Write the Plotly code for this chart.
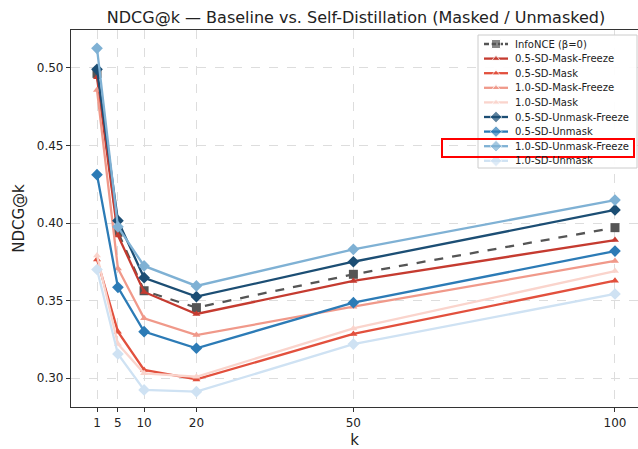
import plotly.graph_objects as go

k_values = [1, 5, 10, 20, 50, 100]

series_names = [
    "InfoNCE (β=0)",
    "0.5-SD-Mask-Freeze",
    "0.5-SD-Mask",
    "1.0-SD-Mask-Freeze",
    "1.0-SD-Mask",
    "0.5-SD-Unmask-Freeze",
    "0.5-SD-Unmask",
    "1.0-SD-Unmask-Freeze",
    "1.0-SD-Unmask",
]

infonce = [0.4965, 0.3940, 0.3563, 0.3454, 0.3669, 0.3970]
sd05_mask_freeze = [0.4940, 0.3920, 0.3555, 0.3413, 0.3626, 0.3890]
sd05_mask = [0.3765, 0.3299, 0.3052, 0.2991, 0.3284, 0.3628]
sd10_mask_freeze = [0.4858, 0.3707, 0.3385, 0.3277, 0.3460, 0.3755]
sd10_mask = [0.3790, 0.3219, 0.3030, 0.3008, 0.3320, 0.3690]
sd05_unmask_freeze = [0.4991, 0.4015, 0.3647, 0.3525, 0.3750, 0.4084]
sd05_unmask = [0.4312, 0.3585, 0.3299, 0.3192, 0.3486, 0.3819]
sd10_unmask_freeze = [0.5127, 0.3975, 0.3723, 0.3594, 0.3830, 0.4148]
sd10_unmask = [0.3700, 0.3155, 0.2923, 0.2912, 0.3219, 0.3542]

all_values = [infonce, sd05_mask_freeze, sd05_mask, sd10_mask_freeze, sd10_mask,
              sd05_unmask_freeze, sd05_unmask, sd10_unmask_freeze, sd10_unmask]

colors = ["#555555", "#c53b30", "#e2503d", "#f0998a", "#fad4cc",
          "#1c4e74", "#2c7bb6", "#7fb1d4", "#cfe2f3"]
symbols = ["square", "triangle-up", "triangle-up", "triangle-up", "triangle-up",
           "diamond", "diamond", "diamond", "diamond"]
dashes = ["dash"] + ["solid"] * 8
msizes = [9, 7, 7, 7, 7, 9, 9, 9, 9]

fig = go.Figure()
for name, vals, c, s, d, ms in zip(series_names, all_values, colors, symbols, dashes, msizes):
    fig.add_trace(go.Scatter(
        x=k_values, y=vals, name=name, mode="lines+markers", showlegend=False,
        line=dict(color=c, width=2.3, dash=d),
        marker=dict(symbol=s, size=ms, color=c),
    ))

# Hand-built legend on an overlay axis measured in pixels of the plot area
L_LEFT, L_RIGHT, L_TOP, L_BOTTOM = 478, 637, 35, 168
fig.add_trace(go.Scatter(
    x=[L_LEFT, L_RIGHT, L_RIGHT, L_LEFT, L_LEFT],
    y=[L_TOP, L_TOP, L_BOTTOM, L_BOTTOM, L_TOP],
    xaxis="x2", yaxis="y2", mode="lines", fill="toself",
    fillcolor="rgba(255,255,255,0.92)", line=dict(color="#cccccc", width=1),
    showlegend=False, hoverinfo="skip"))
annotations = []
for i, (name, c, s, d, ms) in enumerate(zip(series_names, colors, symbols, dashes, msizes)):
    yi = 44 + i * 14.6
    fig.add_trace(go.Scatter(
        x=[484, 496, 508], y=[yi, yi, yi], xaxis="x2", yaxis="y2",
        mode="lines+markers", showlegend=False, hoverinfo="skip",
        line=dict(color=c, width=2.3, dash="solid" if d == "solid" else "5px,2px"),
        marker=dict(symbol=s, size=[0, ms, 0], color=c)))
    annotations.append(dict(x=513, y=yi, xref="x2", yref="y2", text=name,
                            showarrow=False, xanchor="left", yanchor="middle",
                            font=dict(size=10, color="#222222")))

grid = dict(showgrid=True, gridcolor="#dddddd", griddash="dash", gridwidth=1)

fig.update_layout(
    width=638, height=449,
    margin=dict(l=71, r=0, t=30, b=42),
    paper_bgcolor="white", plot_bgcolor="white",
    font=dict(family="DejaVu Sans", size=12, color="#222222"),
    showlegend=False,
    title=dict(text="NDCG@k — Baseline vs. Self-Distillation (Masked / Unmasked)",
               x=356 / 638, xref="container", xanchor="center",
               y=1 - 17 / 449, yref="container", yanchor="middle",
               font=dict(size=16, color="#222222")),
    xaxis=dict(range=[-3.97, 104.4], tickvals=k_values, ticktext=[str(k) for k in k_values],
               showline=True, linecolor="#333333", linewidth=1.2, mirror=True,
               ticks="outside", ticklen=4, tickcolor="#333333", zeroline=False,
               title=dict(text="k", font=dict(size=15), standoff=7), **grid),
    yaxis=dict(range=[0.2813, 0.5245], tickvals=[0.30, 0.35, 0.40, 0.45, 0.50],
               tickformat=".2f",
               showline=True, linecolor="#333333", linewidth=1.2, mirror=False,
               ticks="outside", ticklen=4, tickcolor="#333333", zeroline=False,
               title=dict(text="NDCG@k", font=dict(size=15), standoff=8), **grid),
    xaxis2=dict(overlaying="x", range=[71, 638], visible=False, fixedrange=True),
    yaxis2=dict(overlaying="y", range=[407, 30], visible=False, fixedrange=True),
    annotations=annotations,
    shapes=[dict(type="rect", xref="paper", yref="paper",
                 x0=(442 - 71) / 567, x1=(634 - 71) / 567,
                 y0=(407 - 157) / 377, y1=(407 - 139) / 377,
                 line=dict(color="red", width=2), fillcolor="rgba(0,0,0,0)")],
)

fig.write_html("out.html")
